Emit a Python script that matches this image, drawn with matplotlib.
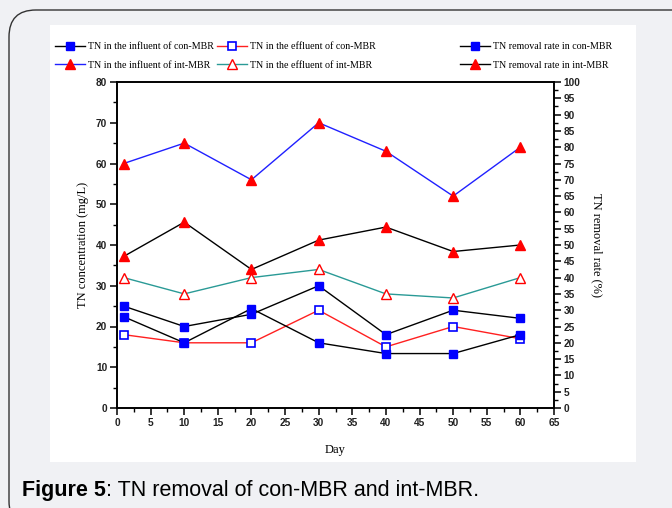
import matplotlib

matplotlib.use("Agg")

import matplotlib.pyplot as plt
from matplotlib.patches import FancyBboxPatch, Rectangle
from matplotlib.ticker import MultipleLocator

days = [1, 10, 20, 30, 40, 50, 60]

# TN concentration (mg/L), left axis
inf_con = [25, 20, 23, 30, 18, 24, 22]
eff_con = [18, 16, 16, 24, 15, 20, 17]
inf_int = [60, 65, 56, 70, 63, 52, 64]
eff_int = [32, 28, 32, 34, 28, 27, 32]

# TN removal rate (%), right axis
rem_con = [28, 20, 30.5, 20, 16.7, 16.7, 22.5]
rem_int = [46.5, 57, 42.5, 51.5, 55.5, 48, 50]

labels = [
    "TN in the influent of con-MBR",
    "TN in the effluent of con-MBR",
    "TN removal rate in con-MBR",
    "TN in the influent of int-MBR",
    "TN in the effluent of int-MBR",
    "TN removal rate in int-MBR",
]

SERIF = "Liberation Serif"
TICK_FONT = dict(family="Liberation Sans", weight="bold", size=7.3)
W, H = 672, 508

fig = plt.figure(figsize=(6.72, 5.08), dpi=100)
fig.patch.set_facecolor("#f0f1f4")

# rounded frame and white panel behind the axes
frame = FancyBboxPatch(
    (9 / W, -20 / H), 700 / W, 518 / H,
    boxstyle="round,pad=0,rounding_size=0.04",
    transform=fig.transFigure, facecolor="#f0f1f4",
    edgecolor="#333333", linewidth=1.0, mutation_aspect=W / H, zorder=-3,
)
fig.patches.append(frame)
panel = Rectangle(
    (50 / W, 1 - 462 / H), 586 / W, 437 / H,
    transform=fig.transFigure, facecolor="white", edgecolor="none", zorder=-2,
)
fig.patches.append(panel)

ax = fig.add_axes([117 / W, 1 - 408 / H, 437 / W, 326 / H])
ax.patch.set_alpha(0)
ax2 = ax.twinx()

ms_sq = 5.5
ms_tri = 7
h1, = ax.plot(days, inf_con, color="black", lw=1, marker="s", ms=ms_sq,
              mfc="#0000ff", mec="#0000ff")
h2, = ax.plot(days, eff_con, color="#ff2020", lw=1, marker="s", ms=ms_sq,
              mfc="white", mec="#0000ff", mew=1.2)
h4, = ax.plot(days, inf_int, color="#2020ff", lw=1, marker="^", ms=ms_tri,
              mfc="#ff0000", mec="#ff0000")
h5, = ax.plot(days, eff_int, color="#2a9a96", lw=1, marker="^", ms=ms_tri,
              mfc="white", mec="#ff0000", mew=1.0)
h3, = ax2.plot(days, rem_con, color="black", lw=1, marker="s", ms=ms_sq,
               mfc="#0000ff", mec="#0000ff")
h6, = ax2.plot(days, rem_int, color="black", lw=1, marker="^", ms=ms_tri,
               mfc="#ff0000", mec="#ff0000")

ax.set_xlim(0, 65)
ax.set_ylim(0, 80)
ax2.set_ylim(0, 100)
ax.xaxis.set_major_locator(MultipleLocator(5))
ax.xaxis.set_minor_locator(MultipleLocator(2.5))
ax.yaxis.set_major_locator(MultipleLocator(10))
ax.yaxis.set_minor_locator(MultipleLocator(5))
ax2.yaxis.set_major_locator(MultipleLocator(5))
ax2.yaxis.set_minor_locator(MultipleLocator(2.5))

for a in (ax, ax2):
    for s in a.spines.values():
        s.set_linewidth(1.2)
    a.tick_params(which="major", direction="out", length=5, width=1.1, pad=2)
    a.tick_params(which="minor", direction="out", length=3, width=1.0)
    for lab in a.get_xticklabels() + a.get_yticklabels():
        lab.set_fontproperties(TICK_FONT)
        lab.set_color("#222222")

ax.set_xlabel("Day", family=SERIF, size=9, labelpad=12)
ax.set_ylabel("TN concentration (mg/L)", family=SERIF, size=9, labelpad=5)
ax2.set_ylabel("TN removal rate (%)", family=SERIF, size=9, rotation=-90,
               labelpad=16)

# one legend per column, placed like the original
columns = [
    ([h1, h4], [labels[0], labels[3]], 55),
    ([h2, h5], [labels[1], labels[4]], 217),
    ([h3, h6], [labels[2], labels[5]], 460),
]
for hs, labs, x0 in columns:
    fig.legend(
        hs, labs, loc="upper left", bbox_to_anchor=(x0 / W, 1 - 42 / H),
        frameon=False, prop=dict(family=SERIF, size=7.2), handlelength=3.0,
        handletextpad=0.3, labelspacing=0.95, borderaxespad=0, borderpad=0,
    )

cap1 = fig.text(22 / W, 1 - 496 / H, "Figure 5", family="Liberation Sans",
                weight="bold", size=15.5, va="baseline")
fig.canvas.draw()
bb = cap1.get_window_extent()
fig.text(bb.x1 / W, 1 - 496 / H, ": TN removal of con-MBR and int-MBR.",
         family="Liberation Sans", size=15.5, va="baseline")

fig.savefig("out.png", dpi=100, facecolor=fig.get_facecolor())
